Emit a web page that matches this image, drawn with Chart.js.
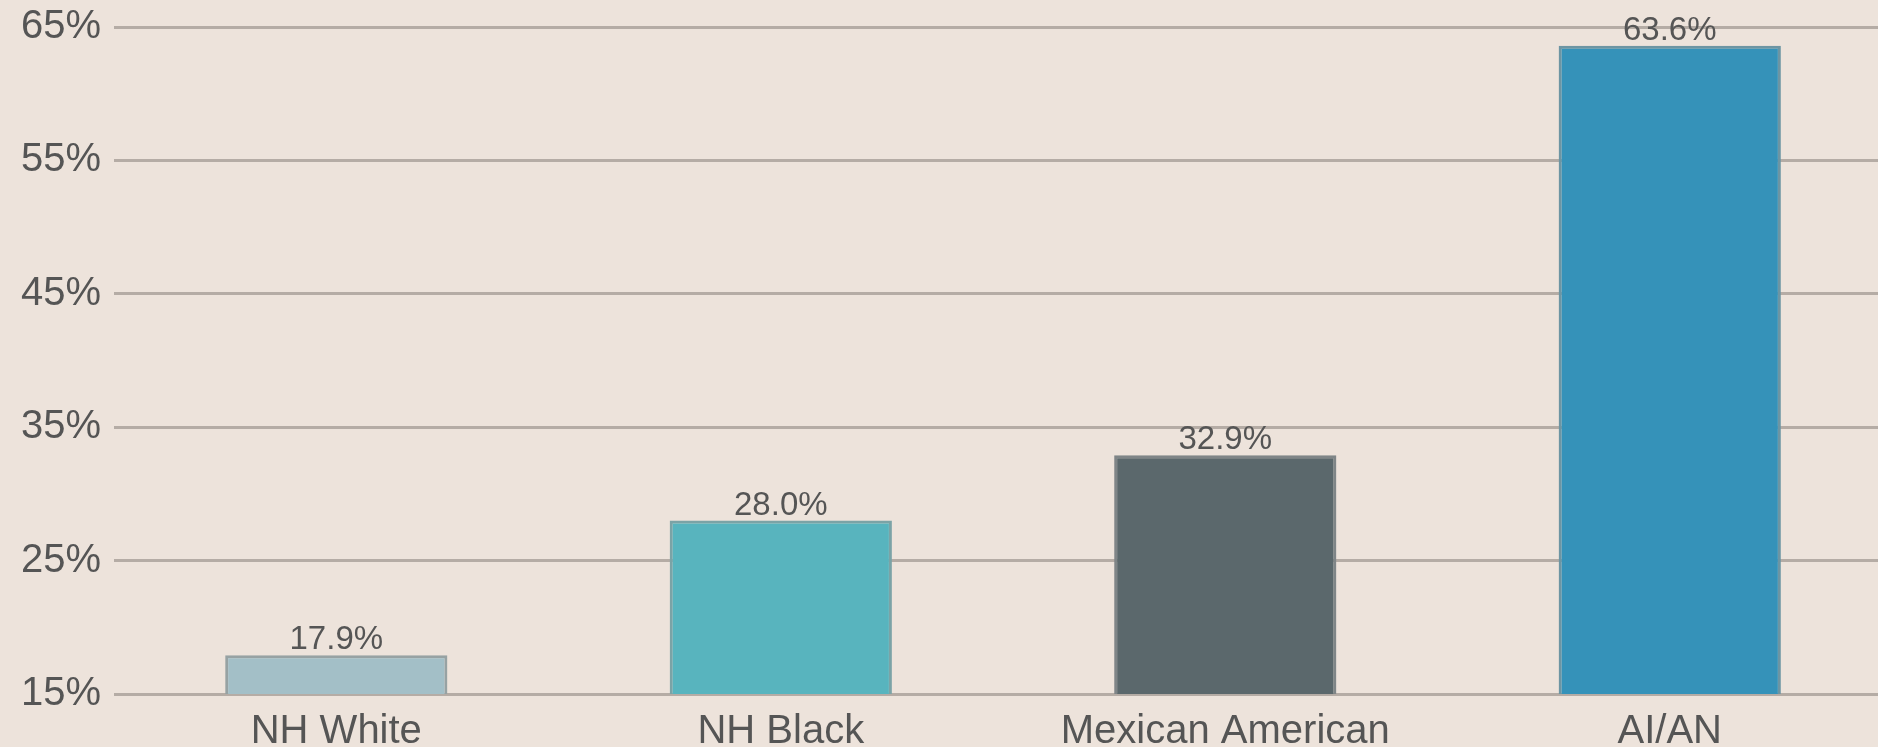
<!DOCTYPE html>
<html>
<head>
<meta charset="utf-8">
<script src="https://cdn.jsdelivr.net/npm/chart.js@4/dist/chart.umd.min.js"></script>
<style>
    html, body {
        margin: 0;
        padding: 0;
        overflow: hidden;
        background: #ede3db;
    }
    #chart-box {
        position: relative;
        margin-top: -10px;
        width: 1892px;
        height: 780px;
    }
</style>
</head>
<body>
<div id="chart-box">
    <canvas id="rate-chart"></canvas>
</div>
<script>
const categories = ['NH White', 'NH Black', 'Mexican American', 'AI/AN'];
const rates = [17.9, 28.0, 32.9, 63.6];
const barColors = ['#a3bfc7', '#58b4be', '#5b686c', '#3592b9'];
const barBorders = ['#97a2a3', '#7ba3a6', '#7f8587', '#6d95a3'];

const fontFamily = '"Liberation Sans", Arial, sans-serif';

// draws the value over each bar
const valueLabels = {
    id: 'valueLabels',
    afterDatasetsDraw: function(chart){
        let ctx = chart.ctx;
        let meta = chart.getDatasetMeta(0);

        ctx.save();
        ctx.font = '33px ' + fontFamily;
        ctx.fillStyle = '#555';
        ctx.textAlign = 'center';
        ctx.textBaseline = 'alphabetic';

        meta.data.forEach((bar, i) => {
            ctx.fillText(rates[i].toFixed(1) + '%', bar.x, bar.y - 6);
        });

        ctx.restore();
    }
};

let ctx = document.getElementById('rate-chart');

let rateChart = new Chart(ctx, {
    type: 'bar',
    data: {
        labels: categories,
        datasets: [{
            data: rates,
            backgroundColor: barColors,
            borderColor: barBorders,
            borderWidth: 3,
            categoryPercentage: 1,
            barPercentage: 0.5
        }]
    },
    options: {
        responsive: true,
        maintainAspectRatio: false,
        animation: false,
        layout: {
            padding: { top: 0, left: 8, right: 0, bottom: 0 }
        },
        plugins: {
            legend: { display: false },
            tooltip: { enabled: false }
        },
        scales: {
            x: {
                grid: { display: false, drawTicks: false },
                border: { display: false },
                ticks: {
                    color: '#555',
                    padding: 14,
                    font: { family: fontFamily, size: 40 }
                }
            },
            y: {
                min: 15,
                max: 65,
                grid: {
                    color: '#b5aca5',
                    lineWidth: 3,
                    drawTicks: false
                },
                border: { display: false },
                ticks: {
                    stepSize: 10,
                    color: '#555',
                    padding: 13,
                    font: { family: fontFamily, size: 40 },
                    callback: function(value){
                        return value + '%';
                    }
                }
            }
        }
    },
    plugins: [valueLabels]
});
</script>
</body>
</html>
